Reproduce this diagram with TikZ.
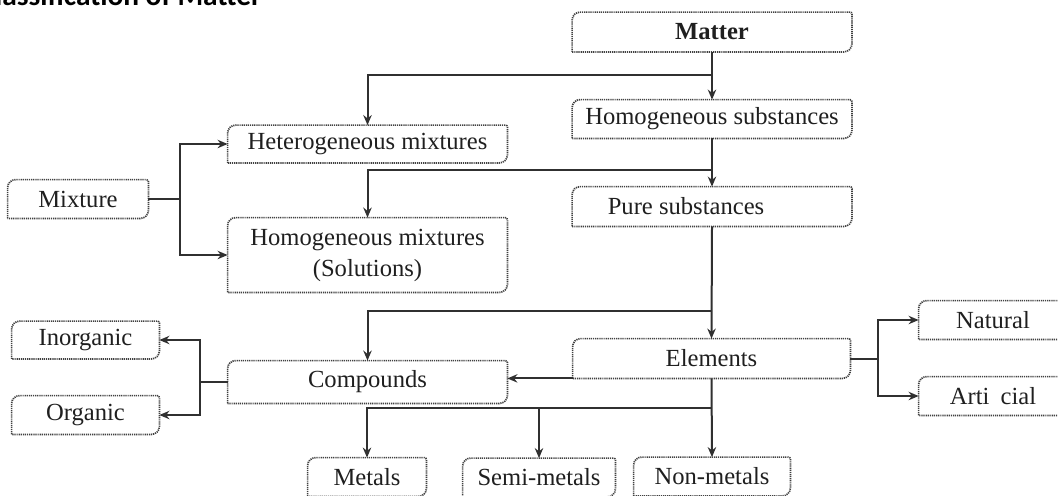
\documentclass[tikz,border=0pt]{standalone}
\usepackage{fontspec}
\setmainfont{Liberation Serif}
\newfontfamily\titlefont{Carlito}
\usetikzlibrary{arrows.meta}
\definecolor{ln}{HTML}{303030}
\definecolor{bx}{HTML}{404040}
\tikzset{
  box/.style={inner sep=0pt, font=\fontsize{12.3}{14.5}\selectfont, text=black!88, align=center},
  conn/.style={draw=ln, line width=1pt},
  arr/.style={conn, -{Stealth[length=5pt,width=4.2pt]}},
  boxline/.style={draw=bx, line width=0.85pt, dash pattern=on 0.6pt off 0.45pt}
}
\newcommand{\outline}[1]{%
  \draw[boxline] (#1.south west) -- ([yshift=-4pt]#1.north west)
    arc[start angle=180,end angle=90,radius=4pt]
    -- ([xshift=-1pt]#1.north east) arc[start angle=90,end angle=0,radius=1pt]
    -- ([yshift=4pt]#1.south east) arc[start angle=0,end angle=-90,radius=4pt]
    -- cycle;}
\begin{document}
\begin{tikzpicture}[x=0.5pt,y=-0.5pt]
\useasboundingbox (0,0) rectangle (1058,495);
\begin{scope}
\clip (0,0) rectangle (1058,495);
\node[anchor=base east, inner sep=0pt, font=\titlefont\bfseries\fontsize{14.7}{16}\selectfont] (title) at (262,5) {Classification of Matter};
% nodes
\node[box, minimum width=139.5pt, minimum height=19.5pt, font=\bfseries\fontsize{12.3}{14.5}\selectfont] (matter) at (712,32) {Matter};
\node[box, minimum width=139.5pt, minimum height=19pt] (homsub) at (712,119) {Homogeneous substances};
\node[box, minimum width=139.5pt, minimum height=19.5pt] (pure) at (712,206.5) {Pure substances\hspace*{26pt}};
\node[box, minimum width=138.5pt, minimum height=19.5pt] (elements) at (711.5,358.5) {Elements};
\node[box, minimum width=139.5pt, minimum height=18.5pt] (hetmix) at (367.5,144) {Heterogeneous mixtures};
\node[box, minimum width=139.5pt, minimum height=37pt] (hommix) at (367.5,255) {Homogeneous mixtures\\[1pt](Solutions)};
\node[box, minimum width=70pt, minimum height=19pt] (mixture) at (78,199) {Mixture};
\node[box, minimum width=139.5pt, minimum height=21pt] (compounds) at (367.5,382) {Compounds};
\node[box, minimum width=73.5pt, minimum height=18.5pt] (inorg) at (85.5,340) {Inorganic};
\node[box, minimum width=73.5pt, minimum height=19pt] (organic) at (85.5,415) {Organic};
\node[box, minimum width=74pt, minimum height=19pt] (natural) at (993,320) {Natural};
\node[box, minimum width=74pt, minimum height=19pt] (artificial) at (993,396) {Arti\hspace{0.45em}cial};
\node[box, minimum width=59pt, minimum height=19pt] (metals) at (367,477) {Metals};
\node[box, minimum width=76pt, minimum height=19pt] (semimetals) at (539,477.5) {Semi-metals};
\node[box, minimum width=78pt, minimum height=19pt] (nonmetals) at (712,476.5) {Non-metals};
\foreach \n in {matter,homsub,pure,elements,hetmix,hommix,mixture,compounds,inorg,organic,natural,artificial,metals,semimetals,nonmetals}{\outline{\n}}
% junction coordinates
\coordinate (j1) at (712,75);
\coordinate (j2) at (712,170);
\coordinate (j3) at (712,311);
\coordinate (j4) at (712,408);
\coordinate (jm) at (180,199);
\coordinate (jc) at (200,382);
\coordinate (je) at (878,358.5);
% connectors
\draw[arr] (matter.south) -- (homsub.north);
\draw[arr] (j1) -| (hetmix.north);
\draw[arr] (homsub.south) -- (pure.north);
\draw[arr] (j2) -| (hommix.north);
\draw[arr] (pure.south) -- (elements.north);
\draw[arr] (j3) -| (compounds.north);
\draw[arr] (elements.south west) -- (elements.south west -| compounds.east);
\draw[arr] (elements.south) -- (nonmetals.north);
\draw[arr] (j4) -| (metals.north);
\draw[arr] (j4 -| semimetals.north) -- (semimetals.north);
\draw[conn] (j4) -- (j4 -| metals.north);
\draw[conn] (mixture.east) -- (jm);
\draw[arr] (jm) |- (hetmix.west);
\draw[arr] (jm) |- (hommix.west);
\draw[conn] (compounds.west) -- (jc);
\draw[arr] (jc) |- (inorg.east);
\draw[arr] (jc) |- (organic.east);
\draw[conn] (elements.east) -- (je);
\draw[arr] (je) |- (natural.west);
\draw[arr] (je) |- (artificial.west);
\end{scope}
\end{tikzpicture}
\end{document}
